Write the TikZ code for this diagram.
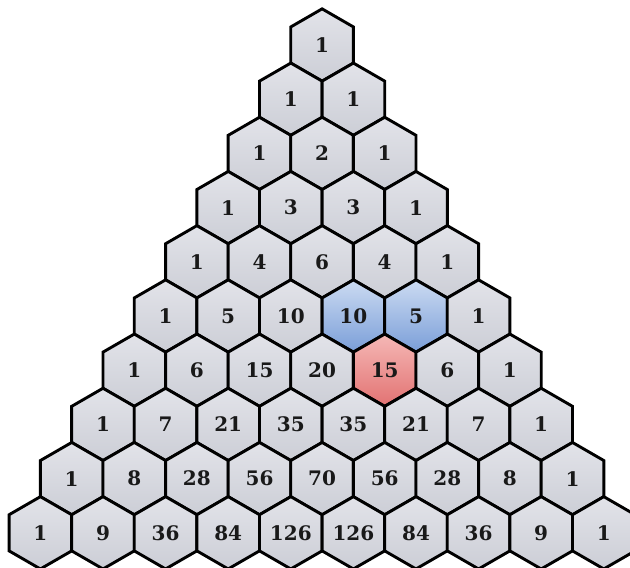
\documentclass[tikz,border=0pt]{standalone}
\usepackage{fontspec}
\setmainfont{DejaVu Serif}
\usepackage{tikz}
\usetikzlibrary{shapes.geometric}

\definecolor{cellhi}{RGB}{226,227,233}
\definecolor{celllo}{RGB}{204,206,214}
\definecolor{bluehi}{RGB}{204,219,242}
\definecolor{bluelo}{RGB}{122,158,216}
\definecolor{redhi}{RGB}{245,184,182}
\definecolor{redlo}{RGB}{226,114,114}

\tikzset{
  hexcell/.style={draw=black, line width=2.9pt, regular polygon, regular polygon sides=6,
    shape border rotate=30, minimum size=72.3pt, inner sep=0pt,
    top color=cellhi, bottom color=celllo,
    font=\fontsize{20}{24}\selectfont\bfseries, text=black!90},
  bluecell/.style={top color=bluehi, bottom color=bluelo},
  redcell/.style={top color=redhi, bottom color=redlo},
  cell 5-3/.style={bluecell},
  cell 5-4/.style={bluecell},
  cell 6-4/.style={redcell}
}

\begin{document}
\begin{tikzpicture}[x=1pt,y=1pt]
\useasboundingbox (0,0) rectangle (630,-568);
\fill[white] (0,0) rectangle (630,-568);

\foreach \vals [count=\r from 0] in {{1},{1,1},{1,2,1},{1,3,3,1},{1,4,6,4,1},
    {1,5,10,10,5,1},{1,6,15,20,15,6,1},{1,7,21,35,35,21,7,1},
    {1,8,28,56,70,56,28,8,1},{1,9,36,84,126,126,84,36,9,1}} {
  \foreach \v [count=\c from 0] in \vals {
    \node[hexcell, cell \r-\c/.try] (h\r-\c) at ({322.1+(\c-\r/2)*62.6}, {-45-\r*54.2}) {\v};
  }
}
\end{tikzpicture}
\end{document}
